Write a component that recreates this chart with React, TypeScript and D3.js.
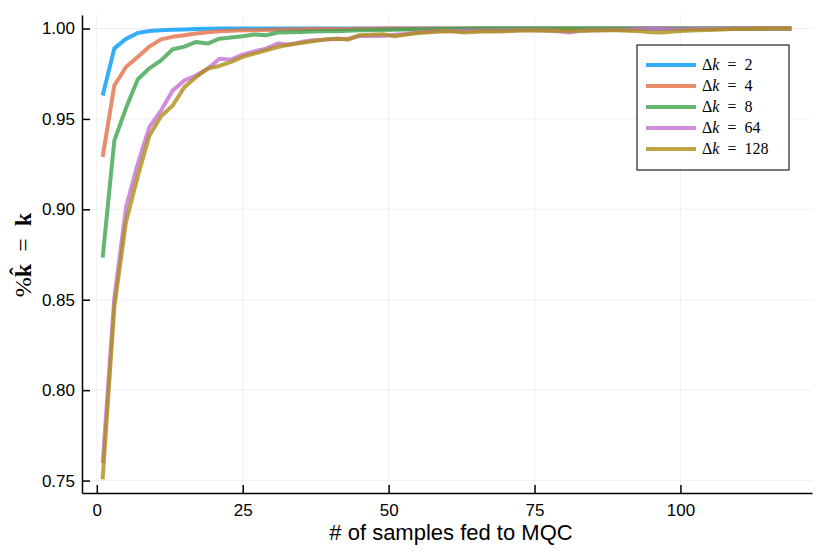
import { useEffect, useRef } from "react";
import * as d3 from "d3";

const WIDTH = 830;
const HEIGHT = 554;
const MARGIN = { top: 15, right: 18, bottom: 61, left: 82 };

// samples fed to MQC
const samples = [
  1, 3, 5, 7, 9, 11, 13, 15, 17, 19, 21, 23, 25, 27, 29, 31, 33, 35, 37, 39,
  41, 43, 45, 47, 49, 51, 53, 55, 57, 59, 61, 63, 65, 67, 69, 71, 73, 75, 77, 79,
  81, 83, 85, 87, 89, 91, 93, 95, 97, 99, 101, 103, 105, 107, 109, 111, 113, 115, 117, 119,
];

const dk2 = [
  0.963, 0.989, 0.9943, 0.9975, 0.9986, 0.999, 0.9993, 0.9995, 0.9997, 0.9999,
  1, 1, 1, 1, 1, 1, 1, 1, 1, 1,
  1, 1, 1, 1, 1, 1, 1, 1, 1, 1,
  1, 1, 1, 1, 1, 1, 1, 1, 1, 1,
  1, 1, 1, 1, 1, 1, 1, 1, 1, 1,
  1, 1, 1, 1, 1, 1, 1, 1, 1, 1,
];

const dk4 = [
  0.929, 0.9685, 0.9787, 0.9843, 0.99, 0.994, 0.9954, 0.9963, 0.9972, 0.998,
  0.9985, 0.9988, 0.999, 0.9991, 0.9992, 0.9994, 0.9995, 0.9996, 0.9997, 0.9997,
  0.9998, 0.9998, 0.9999, 0.9999, 1, 1, 1, 1, 1, 1,
  1, 1, 1, 1, 1, 1, 1, 1, 1, 1,
  1, 1, 1, 1, 1, 1, 1, 1, 1, 1,
  1, 1, 1, 1, 1, 1, 1, 1, 1, 1,
];

const dk8 = [
  0.8733, 0.938, 0.956, 0.9718, 0.978, 0.9824, 0.9885, 0.99, 0.9926, 0.9917,
  0.9944, 0.995, 0.9957, 0.9967, 0.9963, 0.9978, 0.998, 0.9981, 0.9983, 0.9985,
  0.9985, 0.9988, 0.999, 0.999, 0.9992, 0.9993, 0.9994, 0.9995, 0.9996, 0.9997,
  0.9998, 0.9999, 1, 1, 1, 1, 1, 1, 1, 1,
  1, 1, 1, 1, 1, 1, 1, 1, 1, 1,
  1, 1, 1, 1, 1, 1, 1, 1, 1, 1,
];

const dk64 = [
  0.7596, 0.851, 0.901, 0.925, 0.9455, 0.9546, 0.9657, 0.9713, 0.974, 0.9778,
  0.9833, 0.9828, 0.9856, 0.9874, 0.9889, 0.9917, 0.991, 0.9925, 0.9935, 0.9938,
  0.9944, 0.9942, 0.9959, 0.996, 0.9959, 0.9965, 0.997, 0.9978, 0.9983, 0.9987,
  0.9986, 0.9987, 0.9988, 0.9989, 0.9988, 0.999, 0.999, 0.999, 0.9989, 0.9985,
  0.9978, 0.9988, 0.999, 0.999, 0.9992, 0.9993, 0.9998, 1, 1, 0.9995,
  0.9996, 0.9997, 0.9998, 0.9999, 1, 1, 1, 1, 1, 1,
];

const dk128 = [
  0.7506, 0.846, 0.893, 0.918, 0.9407, 0.9515, 0.9574, 0.9676, 0.9731, 0.9778,
  0.9793, 0.9815, 0.9843, 0.9861, 0.988, 0.9898, 0.9912, 0.992, 0.993, 0.994,
  0.9944, 0.9939, 0.9963, 0.9965, 0.9969, 0.9957, 0.9967, 0.9975, 0.998, 0.9985,
  0.9983, 0.9978, 0.9982, 0.9985, 0.9984, 0.9987, 0.9989, 0.9991, 0.9988, 0.9989,
  0.9987, 0.9988, 0.9989, 0.999, 0.999, 0.9988, 0.9985, 0.998, 0.9978, 0.9984,
  0.9988, 0.999, 0.9992, 0.9995, 0.9997, 0.9998, 0.9999, 1, 1, 1,
];

const seriesNames = ["2", "4", "8", "64", "128"];
const seriesColors = ["#009AFA", "#E36F47", "#3EA44E", "#C371D2", "#AC8D18"];
const seriesValues = [dk2, dk4, dk8, dk64, dk128];

const xTicks = [0, 25, 50, 75, 100];
const yTicks = [0.75, 0.8, 0.85, 0.9, 0.95, 1.0];

const SANS = "'Liberation Sans', Arial, Helvetica, sans-serif";
const SERIF = "'Liberation Serif', 'DejaVu Serif', serif";

export default function App() {
  const svgRef = useRef<SVGSVGElement>(null);

  useEffect(() => {
    if (!svgRef.current) return;
    const svg = d3.select(svgRef.current);
    svg.selectAll("*").remove();

    const innerW = WIDTH - MARGIN.left - MARGIN.right;
    const innerH = HEIGHT - MARGIN.top - MARGIN.bottom;

    // Plots.jl style: 3% padding around data extrema
    const [xMin, xMax] = d3.extent(samples) as [number, number];
    const allY = seriesValues.flat();
    const yMin = d3.min(allY) as number;
    const yMax = d3.max(allY) as number;
    const xPad = (xMax - xMin) * 0.03;
    const yPad = (yMax - yMin) * 0.03;

    const x = d3.scaleLinear().domain([xMin - xPad, xMax + xPad]).range([0, innerW]);
    const y = d3.scaleLinear().domain([yMin - yPad, yMax + yPad]).range([innerH, 0]);

    svg.append("rect").attr("width", WIDTH).attr("height", HEIGHT).attr("fill", "#fff");

    const g = svg
      .append("g")
      .attr("transform", `translate(${MARGIN.left},${MARGIN.top})`);

    // Grid
    g.append("g")
      .selectAll("line")
      .data(xTicks)
      .join("line")
      .attr("x1", (d) => x(d))
      .attr("x2", (d) => x(d))
      .attr("y1", 0)
      .attr("y2", innerH)
      .attr("stroke", "#000")
      .attr("stroke-opacity", 0.1)
      .attr("stroke-width", 0.6);

    g.append("g")
      .selectAll("line")
      .data(yTicks)
      .join("line")
      .attr("x1", 0)
      .attr("x2", innerW)
      .attr("y1", (d) => y(d))
      .attr("y2", (d) => y(d))
      .attr("stroke", "#000")
      .attr("stroke-opacity", 0.1)
      .attr("stroke-width", 0.6);

    // Lines
    const line = d3
      .line<number>()
      .x((_, i) => x(samples[i]))
      .y((d) => y(d));

    seriesValues.forEach((vals, i) => {
      g.append("path")
        .datum(vals)
        .attr("d", line)
        .attr("fill", "none")
        .attr("stroke", seriesColors[i])
        .attr("stroke-opacity", 0.8)
        .attr("stroke-width", 4)
        .attr("stroke-linejoin", "round");
    });

    // Axes (left + bottom only, ticks pointing inward)
    const xAxis = g
      .append("g")
      .attr("transform", `translate(0,${innerH})`)
      .call(d3.axisBottom(x).tickValues(xTicks).tickFormat(d3.format("d")).tickSize(-8).tickSizeOuter(0));
    xAxis.select(".domain").attr("stroke", "#000").attr("stroke-width", 1.5);
    xAxis.selectAll(".tick line").attr("stroke", "#000").attr("stroke-width", 1.5);
    xAxis
      .selectAll(".tick text")
      .attr("font-family", SANS)
      .attr("font-size", 17)
      .attr("fill", "#000")
      .attr("y", 11);

    const yAxis = g
      .append("g")
      .call(d3.axisLeft(y).tickValues(yTicks).tickFormat(d3.format(".2f")).tickSize(-8).tickSizeOuter(0));
    yAxis.select(".domain").attr("stroke", "#000").attr("stroke-width", 1.5);
    yAxis.selectAll(".tick line").attr("stroke", "#000").attr("stroke-width", 1.5);
    yAxis
      .selectAll(".tick text")
      .attr("font-family", SANS)
      .attr("font-size", 17)
      .attr("fill", "#000")
      .attr("x", -7);

    // X label
    svg
      .append("text")
      .attr("x", 451)
      .attr("y", 540)
      .attr("text-anchor", "middle")
      .attr("font-family", SANS)
      .attr("font-size", 22)
      .attr("fill", "#000")
      .text("# of samples fed to MQC");

    // Y label: %k̂ = k
    const yl = svg
      .append("text")
      .attr("transform", `translate(31,255) rotate(-90)`)
      .attr("text-anchor", "middle")
      .attr("font-family", SERIF)
      .attr("font-size", 24)
      .attr("fill", "#000");
    yl.append("tspan").text("%");
    yl.append("tspan").attr("font-weight", "bold").text("k\u0302");
    yl.append("tspan").text("\u2002=\u2002");
    yl.append("tspan").attr("font-weight", "bold").text("k");

    // Legend
    const lg = svg.append("g").attr("transform", "translate(637,45)");
    lg.append("rect")
      .attr("width", 152)
      .attr("height", 125)
      .attr("fill", "#fff")
      .attr("stroke", "#222")
      .attr("stroke-width", 1.2);

    seriesNames.forEach((name, i) => {
      const rowY = 20 + i * 21;
      lg.append("line")
        .attr("x1", 9)
        .attr("x2", 59)
        .attr("y1", rowY)
        .attr("y2", rowY)
        .attr("stroke", seriesColors[i])
        .attr("stroke-opacity", 0.8)
        .attr("stroke-width", 4);
      const t = lg
        .append("text")
        .attr("x", 65)
        .attr("y", rowY + 5)
        .attr("font-family", SERIF)
        .attr("font-size", 16)
        .attr("fill", "#000");
      t.append("tspan").text("\u0394");
      t.append("tspan").attr("font-style", "italic").text("k");
      t.append("tspan").text(`\u2002=\u2002${name}`);
    });
  }, []);

  return (
    <div style={{ position: "absolute", left: 0, top: 0 }}>
      <svg ref={svgRef} width={WIDTH} height={HEIGHT} style={{ display: "block" }} />
    </div>
  );
}
